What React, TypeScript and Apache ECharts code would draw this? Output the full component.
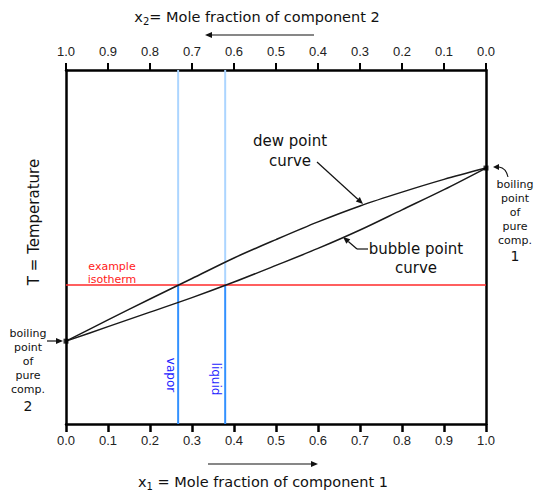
import React, { useEffect, useRef } from "react";
import * as echarts from "echarts";

// x1 = mole fraction of component 1
const x1Values = [0, 0.1, 0.2, 0.3, 0.4, 0.5, 0.6, 0.7, 0.8, 0.9, 1.0];
// temperature (arbitrary units, 0..100 over plot height)
const dewT = [23.4, 29.4, 35.3, 41.1, 46.9, 52.1, 57.1, 61.6, 65.5, 69.1, 72.3];
const bubbleT = [23.4, 27.5, 31.6, 35.7, 40.1, 44.8, 49.6, 54.8, 60.5, 66.2, 72.3];
const isothermT = 39.3;
const vaporX1 = 0.267;
const liquidX1 = 0.379;
const boilingPoints = [
  [0, 23.4],
  [1, 72.3],
];

const FONT = "Liberation Sans, Arial, sans-serif";
const AFONT = "DejaVu Sans, sans-serif";

function arrow(x1: number, y1: number, x2: number, y2: number, color = "#111") {
  const a = Math.atan2(y2 - y1, x2 - x1);
  const L = 7;
  const W = 3;
  const bx = x2 - L * Math.cos(a);
  const by = y2 - L * Math.sin(a);
  const px = -Math.sin(a) * W;
  const py = Math.cos(a) * W;
  return [
    { type: "line", shape: { x1, y1, x2: bx, y2: by }, style: { stroke: color, lineWidth: 1.2 } },
    {
      type: "polygon",
      shape: { points: [[x2, y2], [bx + px, by + py], [bx - px, by - py]] },
      style: { fill: color },
    },
  ];
}

export default function App() {
  const ref = useRef<HTMLDivElement>(null);
  useEffect(() => {
    document.body.style.margin = "0";
    const chart = echarts.init(ref.current!, null, { renderer: "svg" });
    const dew = x1Values.map((x, i) => [x, dewT[i]]);
    const bubble = x1Values.map((x, i) => [x, bubbleT[i]]);
    const axisCommon = {
      type: "value",
      min: 0,
      max: 1,
      interval: 0.1,
      splitLine: { show: false },
      axisLine: { show: true, onZero: false, lineStyle: { color: "#000", width: 2.5 } },
      axisLabel: {
        formatter: (v: number) => v.toFixed(1),
        fontSize: 13,
        color: "#222",
        fontFamily: FONT,
      },
    };
    const text = (x: number, y: number, t: string, extra: any = {}) => ({
      type: "text",
      x,
      y,
      style: {
        text: t,
        fontSize: 12,
        fontFamily: AFONT,
        fill: "#111",
        align: "center",
        verticalAlign: "middle",
        ...extra,
      },
    });
    const subRich = { sub: { fontSize: 10, verticalAlign: "bottom", padding: [8, 0, 0, 0], fontFamily: AFONT, fill: "#111" } };
    chart.setOption({
      animation: false,
      grid: { left: 66, right: 48, top: 70, bottom: 72 },
      xAxis: [
        {
          ...axisCommon,
          position: "bottom",
          axisTick: { show: true, inside: false, length: 8, lineStyle: { color: "#000", width: 2.5 } },
          axisLabel: { ...axisCommon.axisLabel, margin: 10 },
        },
        {
          ...axisCommon,
          position: "top",
          inverse: true,
          axisTick: { show: true, inside: false, length: 7, lineStyle: { color: "#000", width: 2 } },
          axisLabel: { ...axisCommon.axisLabel, margin: 12 },
        },
      ],
      yAxis: [
        {
          type: "value",
          min: 0,
          max: 100,
          position: "left",
          splitLine: { show: false },
          axisTick: { show: false },
          axisLabel: { show: false },
          axisLine: { show: true, lineStyle: { color: "#000", width: 2.5 } },
        },
        {
          type: "value",
          min: 0,
          max: 100,
          position: "right",
          splitLine: { show: false },
          axisTick: { show: false },
          axisLabel: { show: false },
          axisLine: { show: true, lineStyle: { color: "#000", width: 2.5 } },
        },
      ],
      series: [
        {
          type: "line",
          data: [[vaporX1, isothermT], [vaporX1, 100]],
          symbol: "none",
          lineStyle: { color: "#acd5ff", width: 2 },
          z: 1,
        },
        {
          type: "line",
          data: [[vaporX1, 0], [vaporX1, isothermT]],
          symbol: "none",
          lineStyle: { color: "#3391ff", width: 2 },
          z: 1,
        },
        {
          type: "line",
          data: [[liquidX1, isothermT], [liquidX1, 100]],
          symbol: "none",
          lineStyle: { color: "#acd5ff", width: 2 },
          z: 1,
        },
        {
          type: "line",
          data: [[liquidX1, 0], [liquidX1, isothermT]],
          symbol: "none",
          lineStyle: { color: "#3391ff", width: 2 },
          z: 1,
        },
        {
          type: "line",
          data: [[0, isothermT], [1, isothermT]],
          symbol: "none",
          lineStyle: { color: "#ff2a2a", width: 1.5 },
          z: 2,
        },
        {
          type: "line",
          data: dew,
          smooth: 0.3,
          symbol: "none",
          lineStyle: { color: "#1a1a1a", width: 1.5 },
          z: 3,
        },
        {
          type: "line",
          data: bubble,
          smooth: 0.3,
          symbol: "none",
          lineStyle: { color: "#1a1a1a", width: 1.5 },
          z: 3,
        },
        {
          type: "scatter",
          data: boilingPoints,
          symbol: "rect",
          symbolSize: 5,
          itemStyle: { color: "#000" },
          z: 4,
        },
      ],
      graphic: [
        // top title
        {
          type: "text",
          x: 257,
          y: 17,
          style: {
            text: "x{sub|2}= Mole fraction of component 2",
            fontSize: 14.5,
            fontFamily: AFONT,
            fill: "#111",
            align: "center",
            verticalAlign: "middle",
            rich: subRich,
          },
        },
        ...arrow(314, 35, 205, 35),
        // bottom title
        {
          type: "text",
          x: 263,
          y: 482,
          style: {
            text: "x{sub|1} = Mole fraction of component 1",
            fontSize: 14.5,
            fontFamily: AFONT,
            fill: "#111",
            align: "center",
            verticalAlign: "middle",
            rich: subRich,
          },
        },
        ...arrow(208, 464, 318, 464),
        // y title
        {
          type: "text",
          x: 34,
          y: 222,
          rotation: Math.PI / 2,
          style: {
            text: "T = Temperature",
            fontSize: 15,
            fontFamily: AFONT,
            fill: "#111",
            align: "center",
            verticalAlign: "middle",
          },
        },
        // example isotherm
        text(112, 272.5, "example\nisotherm", { fill: "#ff1a1a", fontSize: 11, lineHeight: 13 }),
        // dew point curve
        text(290, 151, "dew point\ncurve", { fontSize: 15, lineHeight: 20 }),
        ...arrow(317, 162, 363, 204),
        // bubble point curve
        text(416, 258, "bubble point\ncurve", { fontSize: 15, lineHeight: 19 }),
        { type: "line", shape: { x1: 368, y1: 249, x2: 357, y2: 249 }, style: { stroke: "#111", lineWidth: 1.2 } },
        ...arrow(357, 249, 343, 237),
        // boiling point comp 1
        text(515, 212, "boiling\npoint\nof\npure\ncomp.", { fontSize: 11, lineHeight: 14 }),
        text(515, 256, "1", { fontSize: 14 }),
        {
          type: "bezierCurve",
          shape: { x1: 508, y1: 177, cpx1: 506, cpy1: 168, x2: 499, y2: 167 },
          style: { stroke: "#111", lineWidth: 1.1, fill: "none" },
        },
        {
          type: "polygon",
          shape: { points: [[493, 167], [499, 164], [499, 170]] },
          style: { fill: "#111" },
        },
        // boiling point comp 2
        text(28, 361, "boiling\npoint\nof\npure\ncomp.", { fontSize: 11, lineHeight: 14 }),
        text(28, 406, "2", { fontSize: 14 }),
        ...arrow(47, 341, 63, 341),
        // vapor / liquid
        {
          type: "text",
          x: 171,
          y: 375,
          rotation: -Math.PI / 2,
          style: { text: "vapor", fontSize: 12, fontFamily: AFONT, fill: "#2323ff", align: "center", verticalAlign: "middle" },
        },
        {
          type: "text",
          x: 216,
          y: 379,
          rotation: -Math.PI / 2,
          style: { text: "liquid", fontSize: 12, fontFamily: AFONT, fill: "#2323ff", align: "center", verticalAlign: "middle" },
        },
      ],
    });
    return () => chart.dispose();
  }, []);
  return <div ref={ref} style={{ width: 534, height: 496 }} />;
}
